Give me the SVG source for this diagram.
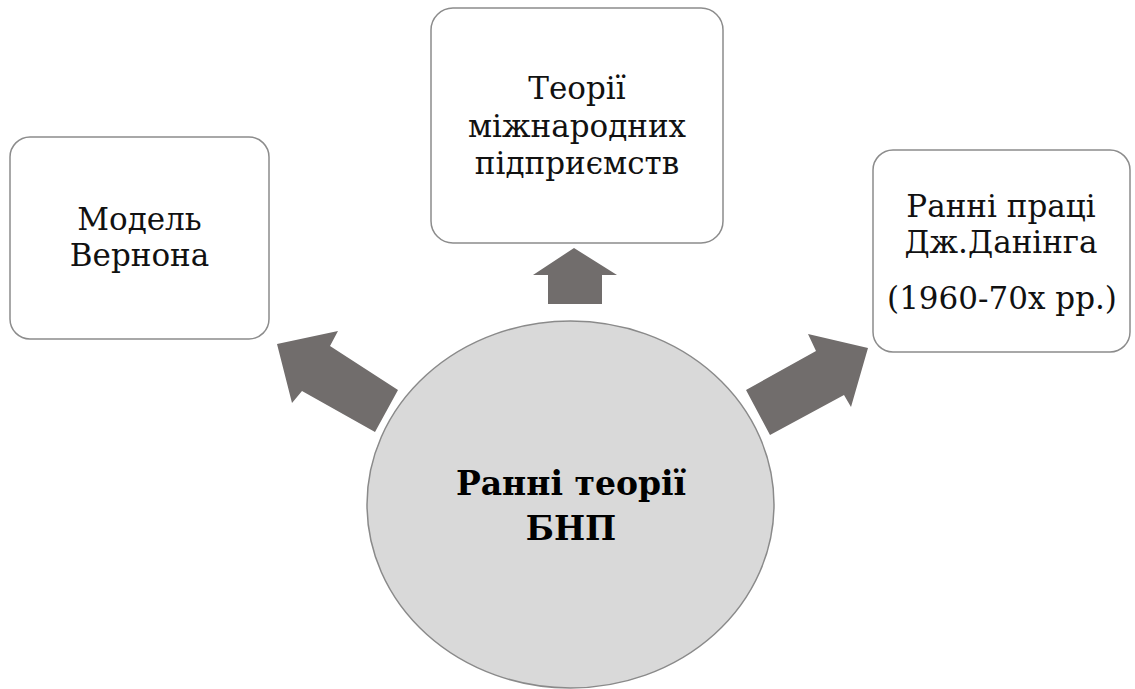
<svg xmlns="http://www.w3.org/2000/svg" width="1135" height="689" viewBox="0 0 1135 689">
<style>
.box{fill:#ffffff;stroke:#8c8c8c;stroke-width:1.5}
.lbl{font-family:'DejaVu Serif','Liberation Serif',serif;font-size:31px;fill:#111;text-anchor:middle}
.ctr{font-family:'DejaVu Serif','Liberation Serif',serif;font-size:33px;font-weight:bold;fill:#000;text-anchor:middle}
.arr{fill:#716d6c}
</style>
<rect width="1135" height="689" fill="#ffffff"/>
<g id="connectors">
<polygon class="arr" points="277,344 338,331 330,346 398,390 375,432 302,391 292,403"/>
<polygon class="arr" points="574,248 617,275 602,275 602,304 548,304 548,275 533,275"/>
<polygon class="arr" points="868,348 808,334 816,351 746,390 770,435 844,395 851,407"/>
</g>
<g id="node-center">
<ellipse cx="570.5" cy="504.5" rx="203.5" ry="183.5" fill="#d9d9d9" stroke="#8a8a8a" stroke-width="1.5"/>
<text class="ctr" x="571" y="495">Ранні теорії</text>
<text class="ctr" x="571" y="540">БНП</text>
</g>
<g id="node-vernon">
<rect class="box" x="10" y="137" width="259" height="202" rx="20"/>
<text class="lbl" x="139.5" y="230">Модель</text>
<text class="lbl" x="139.5" y="266">Вернона</text>
</g>
<g id="node-mnp">
<rect class="box" x="431" y="8" width="292" height="235" rx="22"/>
<text class="lbl" x="577" y="99">Теорії</text>
<text class="lbl" x="577" y="137">міжнародних</text>
<text class="lbl" x="577" y="174">підприємств</text>
</g>
<g id="node-dunning">
<rect class="box" x="873" y="150" width="257" height="202" rx="20"/>
<text class="lbl" x="1001" y="217">Ранні праці</text>
<text class="lbl" x="1001" y="253">Дж.Данінга</text>
<text class="lbl" x="1002" y="309">(1960-70х рр.)</text>
</g>
</svg>
